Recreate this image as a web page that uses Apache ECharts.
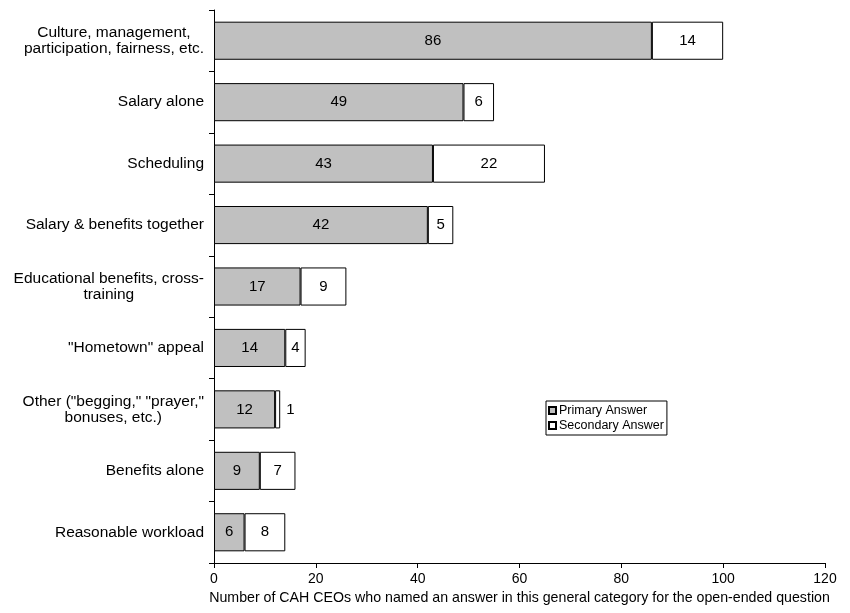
<!DOCTYPE html>
<html>
<head>
<meta charset="utf-8">
<script src="https://cdn.jsdelivr.net/npm/echarts@6/dist/echarts.min.js"></script>
<style>
  html, body { margin: 0; padding: 0; background: #fff; }
  #chart { width: 850px; height: 613px; }
</style>
</head>
<body>
<div id="chart"></div>
<script>
// Recruitment/retention answer categories, top to bottom
const categories = [
  'Culture, management,\nparticipation, fairness, etc.',
  'Salary alone',
  'Scheduling',
  'Salary & benefits together',
  'Educational benefits, cross-\ntraining',
  '"Hometown" appeal',
  'Other ("begging," "prayer,"\nbonuses, etc.)',
  'Benefits alone',
  'Reasonable workload'
];
const primaryAnswer = [86, 49, 43, 42, 17, 14, 12, 9, 6];
const secondaryAnswer = [14, 6, 22, 5, 9, 4, 1, 7, 8];
const xTicks = [0, 20, 40, 60, 80, 100, 120];

const FONT = 'Liberation Sans, Arial, sans-serif';

const chart = echarts.init(document.getElementById('chart'), null, { renderer: 'canvas' });

// Small segments get their value label outside the bar end
const secondaryData = secondaryAnswer.map(v => v < 3
  ? { value: v, label: { position: 'right', distance: 6 } }
  : v);

chart.setOption({
  animation: false,
  backgroundColor: '#ffffff',
  textStyle: { fontFamily: FONT },
  grid: { left: 214, right: 25, top: 10, bottom: 50, containLabel: false },
  legend: {
    orient: 'vertical',
    left: 546,
    top: 401,
    padding: [3, 3, 3, 2],
    itemGap: 2,
    itemWidth: 7,
    itemHeight: 7,
    borderColor: '#000',
    borderWidth: 1,
    borderRadius: 0,
    icon: 'rect',
    textStyle: { fontFamily: FONT, fontSize: 12.5, color: '#000', padding: [0, 0, 0, -2] },
    data: ['Primary Answer', 'Secondary Answer']
  },
  xAxis: {
    type: 'value',
    min: xTicks[0],
    max: xTicks[xTicks.length - 1],
    interval: 20,
    name: 'Number of CAH CEOs who named an answer in this general category for the open-ended question',
    nameLocation: 'middle',
    nameGap: 28,
    nameTextStyle: { fontFamily: FONT, fontSize: 14.2, color: '#000' },
    axisLine: { show: true, lineStyle: { color: '#000', width: 1 } },
    axisTick: { show: true, length: 5, inside: false, lineStyle: { color: '#000' } },
    axisLabel: { fontFamily: FONT, fontSize: 14, color: '#000', margin: 9 },
    splitLine: { show: false }
  },
  yAxis: {
    type: 'category',
    inverse: true,
    data: categories,
    axisLine: { show: true, lineStyle: { color: '#000', width: 1 } },
    axisTick: { show: true, length: 5, inside: false, alignWithLabel: false, lineStyle: { color: '#000' } },
    axisLabel: {
      fontFamily: FONT,
      fontSize: 15.5,
      color: '#000',
      margin: 10,
      lineHeight: 16,
      formatter: function (val) {
        return val.split('\n').map(s => '{c|' + s + '}').join('\n');
      },
      rich: {
        c: { align: 'center', fontFamily: FONT, fontSize: 15.5, color: '#000', lineHeight: 16 }
      }
    }
  },
  series: [
    {
      name: 'Primary Answer',
      type: 'bar',
      stack: 'total',
      barCategoryGap: '38%',
      data: primaryAnswer,
      itemStyle: { color: '#c0c0c0', borderColor: '#000', borderWidth: 1 },
      label: { show: true, position: 'inside', color: '#000', fontFamily: FONT, fontSize: 15 }
    },
    {
      name: 'Secondary Answer',
      type: 'bar',
      stack: 'total',
      data: secondaryData,
      itemStyle: { color: '#ffffff', borderColor: '#000', borderWidth: 1 },
      label: { show: true, position: 'inside', color: '#000', fontFamily: FONT, fontSize: 15 }
    }
  ]
});
</script>
</body>
</html>
